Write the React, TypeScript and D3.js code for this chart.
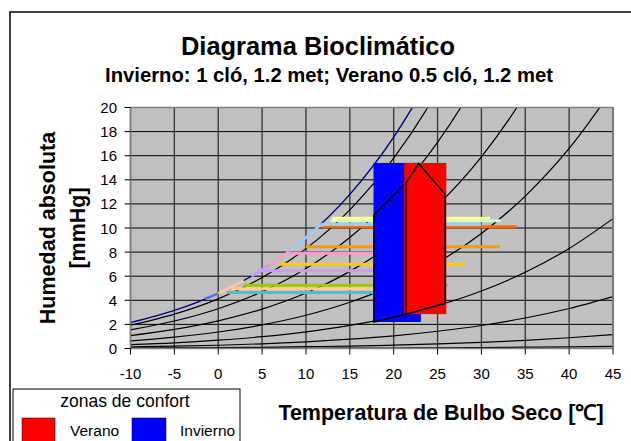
import React from 'react';
import * as d3 from 'd3';

// ---- data ----
const temps = [-10, -5, 0, 5, 10, 15, 20, 25, 30, 35, 40, 45];
const saturation = [2.15, 3.16, 4.58, 6.54, 9.21, 12.79, 17.54, 23.76, 31.82, 42.18, 55.32, 71.88];
const rh90 = [1.93, 2.85, 4.12, 5.89, 8.29, 11.51, 15.79, 21.38, 28.64, 37.96, 49.79, 64.69];
const rh72 = [1.55, 2.28, 3.3, 4.71, 6.63, 9.21, 12.63, 17.11, 22.91, 30.37, 39.83, 51.75];
const rh50 = [1.07, 1.58, 2.29, 3.27, 4.6, 6.4, 8.77, 11.88, 15.91, 21.09, 27.66, 35.94];
const rh30 = [0.64, 0.95, 1.37, 1.96, 2.76, 3.84, 5.26, 7.13, 9.55, 12.65, 16.6, 21.56];
const rh15 = [0.32, 0.47, 0.69, 0.98, 1.38, 1.92, 2.63, 3.56, 4.77, 6.33, 8.3, 10.78];
const rh6 = [0.13, 0.19, 0.27, 0.39, 0.55, 0.77, 1.05, 1.43, 1.91, 2.53, 3.32, 4.31];
const rh16 = [0.03, 0.05, 0.07, 0.1, 0.15, 0.2, 0.28, 0.38, 0.51, 0.67, 0.89, 1.15];
const rh025 = [0.01, 0.01, 0.01, 0.02, 0.02, 0.03, 0.04, 0.06, 0.08, 0.11, 0.14, 0.18];
const rhCurves = [rh90, rh72, rh50, rh30, rh15, rh6, rh16, rh025];

const monthColors = ['#FFFF99', '#CCFFCC', '#99CCFF', '#FF6600', '#FF9900', '#FF99CC', '#FFCC00', '#CC99FF', '#99CC00', '#FFCC99', '#33CCCC'];
const monthHumidity = [10.8, 10.6, 10.3, 10.1, 8.45, 7.9, 7.0, 6.45, 5.25, 4.95, 4.65];
const monthTmin = [13.0, 12.8, 11.7, 11.9, 10.0, 8.1, 7.0, 4.5, 2.9, 1.5, 1.0];
const monthTmax = [31.0, 32.2, 30.0, 34.0, 32.1, 25.0, 28.2, 24.0, 26.2, 22.0, 20.0];

const satSegColors = ['#5577EE', '#FFCC99', '#CC99FF', '#FF99CC', '#99CCFF'];
const satSegTemps = [[-1.5, -0.7, 0], [0, 1, 2, 2.9], [3.8, 4.7, 5.7], [5.7, 7, 8.1], [8.1, 9, 10, 11, 11.7]];
const satSegValues = [[4.14, 4.36, 4.58], [4.58, 4.93, 5.29, 5.63], [6.01, 6.43, 6.86], [6.86, 7.51, 8.08], [8.08, 8.61, 9.21, 9.84, 10.3]];

const winterRectT = [17.7, 23.1];
const winterRectH = [2.2, 15.4];
const summerRectT = [21.2, 26.0];
const summerRectH = [2.85, 15.4];
const winterOutlineT = [17.75, 17.75, 21.4, 21.4];
const winterOutlineH = [2.2, 11.1, 13.75, 2.85];
const summerOutlineT = [21.4, 21.4, 22.85, 25.85, 25.85];
const summerOutlineH = [2.85, 13.75, 15.35, 12.8, 3.75];

const xTicks = [-10, -5, 0, 5, 10, 15, 20, 25, 30, 35, 40, 45];
const yTicks = [0, 2, 4, 6, 8, 10, 12, 14, 16, 18, 20];

const FONT = '"Liberation Sans", Arial, sans-serif';

export default function App() {
  const x = d3.scaleLinear().domain([-10, 45]).range([130.5, 613]);
  const y = d3.scaleLinear().domain([0, 20]).range([348.5, 107.5]);
  const line = d3
    .line<[number, number]>()
    .x((d) => x(d[0]))
    .y((d) => y(d[1]))
    .curve(d3.curveMonotoneX);
  const poly = d3
    .line<[number, number]>()
    .x((d) => x(d[0]))
    .y((d) => y(d[1]));

  const zip = (a: number[], b: number[]) => a.map((t, i) => [t, b[i]] as [number, number]);

  const px0 = x(-10), px1 = x(45), py0 = y(20), py1 = y(0);

  return (
    <svg width={631} height={441} style={{ position: 'absolute', left: 0, top: 0 }} fontFamily={FONT}>
      <rect x={0} y={0} width={631} height={441} fill="#fff" />
      <rect x={10} y={12} width={700} height={500} fill="#fff" stroke="#000" strokeWidth={1.5} />
      <defs>
        <clipPath id="plot">
          <rect x={px0} y={py0} width={px1 - px0} height={py1 - py0} />
        </clipPath>
      </defs>
      <text x={318} y={55} textAnchor="middle" fontSize={26} fontWeight="bold" textLength={274} lengthAdjust="spacingAndGlyphs">Diagrama Bioclimático</text>
      <text x={329} y={82} textAnchor="middle" fontSize={19.5} fontWeight="bold" textLength={448} lengthAdjust="spacingAndGlyphs">Invierno: 1 cló, 1.2 met; Verano 0.5 cló, 1.2 met</text>

      <rect x={px0} y={py0} width={px1 - px0} height={py1 - py0} fill="#C0C0C0" />
      {yTicks.map((t) => (
        <line key={'gy' + t} x1={px0} x2={px1} y1={y(t)} y2={y(t)} stroke="#000" strokeWidth={1} />
      ))}
      {xTicks.map((t) => (
        <line key={'gx' + t} x1={x(t)} x2={x(t)} y1={py0} y2={py1} stroke="#333" strokeWidth={1.3} />
      ))}

      <g clipPath="url(#plot)" fill="none">
        {rhCurves.map((c, i) => (
          <path key={'rh' + i} d={line(zip(temps, c)) || ''} stroke="#000" strokeWidth={1.2} />
        ))}
        <path d={line(zip(temps, saturation)) || ''} stroke="#000080" strokeWidth={1.4} />
        {satSegTemps.map((ts, i) => (
          <path key={'ss' + i} d={line(zip(ts, satSegValues[i])) || ''} stroke={satSegColors[i]} strokeWidth={2.5} />
        ))}
        {monthColors
          .map((c, i) => i)
          .reverse()
          .map((i) => (
            <line
              key={'m' + i}
              x1={x(monthTmin[i])}
              x2={x(monthTmax[i])}
              y1={y(monthHumidity[i])}
              y2={y(monthHumidity[i])}
              stroke={monthColors[i]}
              strokeWidth={3}
            />
          ))}
        <rect
          x={x(winterRectT[0])}
          y={y(winterRectH[1])}
          width={x(winterRectT[1]) - x(winterRectT[0])}
          height={y(winterRectH[0]) - y(winterRectH[1])}
          fill="#0000FF"
        />
        <path d={(poly(zip(winterOutlineT, winterOutlineH)) || '') + 'Z'} stroke="#000" strokeWidth={1.5} />
        <rect
          x={x(summerRectT[0])}
          y={y(summerRectH[1])}
          width={x(summerRectT[1]) - x(summerRectT[0])}
          height={y(summerRectH[0]) - y(summerRectH[1])}
          fill="#FF0000"
        />
        <path d={(poly(zip(summerOutlineT, summerOutlineH)) || '') + 'Z'} stroke="#000" strokeWidth={1.5} />
      </g>
      <rect x={px0} y={py0} width={px1 - px0} height={py1 - py0} fill="none" stroke="#808080" strokeWidth={1.5} />

      {yTicks.map((t) => (
        <g key={'ty' + t}>
          <line x1={px0 - 6} x2={px0} y1={y(t)} y2={y(t)} stroke="#000" />
          <text x={117} y={y(t) + 5.5} textAnchor="end" fontSize={15}>{t}</text>
        </g>
      ))}
      {xTicks.map((t) => (
        <g key={'tx' + t}>
          <line x1={x(t)} x2={x(t)} y1={py1} y2={py1 + 6} stroke="#000" />
          <text x={x(t)} y={379} textAnchor="middle" fontSize={15}>{t}</text>
        </g>
      ))}

      <text transform="translate(55,228) rotate(-90)" textAnchor="middle" fontSize={21.5} fontWeight="bold">Humedad absoluta</text>
      <text transform="translate(85,228) rotate(-90)" textAnchor="middle" fontSize={21.5} fontWeight="bold">[mmHg]</text>
      <text x={441} y={420} textAnchor="middle" fontSize={21.5} fontWeight="bold">Temperatura de Bulbo Seco [℃]</text>

      <rect x={13} y={389} width={227} height={70} fill="#fff" stroke="#000" strokeWidth={1} />
      <text x={125} y={407} textAnchor="middle" fontSize={17.5}>zonas de confort</text>
      <rect x={22} y={418} width={33} height={30} fill="#FF0000" stroke="#000" strokeWidth={0.5} />
      <text x={70} y={436} fontSize={15.5}>Verano</text>
      <rect x={132} y={418} width={34} height={30} fill="#0000FF" stroke="#000" strokeWidth={0.5} />
      <text x={180} y={436} fontSize={15.5}>Invierno</text>
    </svg>
  );
}
